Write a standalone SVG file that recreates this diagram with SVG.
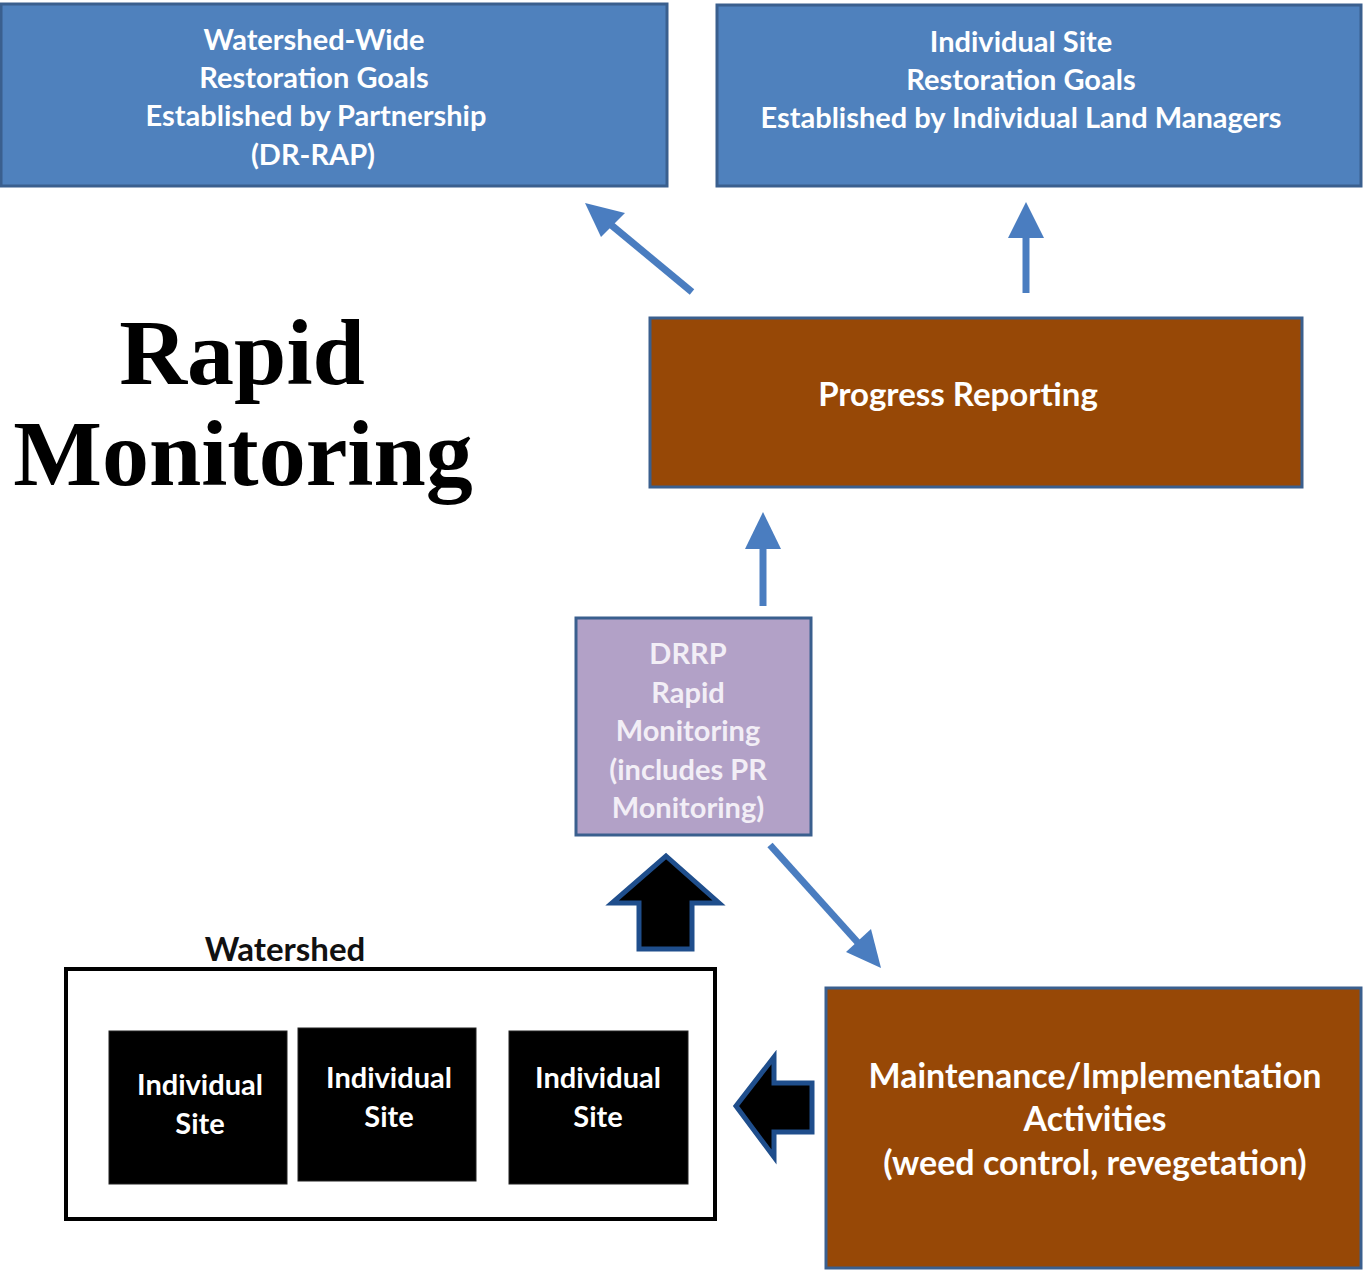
<svg xmlns="http://www.w3.org/2000/svg" width="1363" height="1273" viewBox="0 0 1363 1273">
<defs>
<style>
.blue{fill:#4f81bd;stroke:#3a5f8e;stroke-width:3}
.brown{fill:#974806;stroke:#3a5f8e;stroke-width:3}
.purple{fill:#b2a1c7;stroke:#3a5f8e;stroke-width:3}
.site{fill:#000;stroke:#222;stroke-width:1}
.t{font-family:Lato,"Open Sans","Liberation Sans",sans-serif;font-weight:bold;text-anchor:middle;fill:#fff}
.tl{fill:#f2eef6}
.big{font-family:"Liberation Serif","DejaVu Serif",serif;font-weight:bold;font-size:94px;text-anchor:middle;fill:#000}
.ln{stroke:#4a7dc0;stroke-width:7;fill:none}
.hd{fill:#4a7dc0}
.blk{fill:#000;stroke:#1f4e8c;stroke-width:5;stroke-linejoin:miter}
</style>
</defs>
<rect width="1363" height="1273" fill="#fff"/>
<g id="watershed-goals">
<rect class="blue" x="1" y="4" width="666" height="182"/>
<text class="t" font-size="29" x="314" y="50">Watershed-Wide</text>
<text class="t" font-size="29" x="314" y="88">Restoration  Goals</text>
<text class="t" font-size="29" x="316" y="126">Established  by Partnership</text>
<text class="t" font-size="29" x="313" y="165">(DR-RAP)</text>
</g>
<g id="site-goals">
<rect class="blue" x="717" y="5" width="644" height="181"/>
<text class="t" font-size="29" x="1021" y="52">Individual  Site</text>
<text class="t" font-size="29" x="1021" y="90">Restoration  Goals</text>
<text class="t" font-size="29" x="1021" y="128">Established  by Individual  Land  Managers</text>
</g>
<g id="title">
<text class="big" x="242" y="384">Rapid</text>
<text class="big" x="243" y="485">Monitoring</text>
</g>
<g id="progress-reporting">
<rect class="brown" x="650" y="318" width="652" height="169"/>
<text class="t" font-size="33" x="958" y="406">Progress Reporting</text>
</g>
<g id="drrp">
<rect class="purple" x="576" y="618" width="235" height="217"/>
<text class="t tl" font-size="29" x="688" y="664">DRRP</text>
<text class="t tl" font-size="29" x="688" y="703">Rapid</text>
<text class="t tl" font-size="29" x="688" y="741">Monitoring</text>
<text class="t tl" font-size="29" x="688" y="780">(includes PR</text>
<text class="t tl" font-size="29" x="688" y="818">Monitoring)</text>
</g>
<g id="maintenance">
<rect class="brown" x="826" y="988" width="535" height="280"/>
<text class="t" font-size="34" x="1095" y="1088">Maintenance/Implementation</text>
<text class="t" font-size="34" x="1095" y="1131">Activities</text>
<text class="t" font-size="34" x="1095" y="1175">(weed control, revegetation)</text>
</g>
<g id="watershed">
<text font-family="Lato,'Liberation Sans',sans-serif" font-weight="bold" font-size="33" x="285" y="961" text-anchor="middle" fill="#111">Watershed</text>
<rect x="66" y="969" width="649" height="250" fill="#fff" stroke="#000" stroke-width="4"/>
</g>
<g id="site-1">
<rect class="site" x="109" y="1031" width="178" height="153"/>
<text class="t" font-size="29" x="200" y="1095">Individual</text>
<text class="t" font-size="29" x="200" y="1134">Site</text>
</g>
<g id="site-2">
<rect class="site" x="298" y="1028" width="178" height="153"/>
<text class="t" font-size="29" x="389" y="1088">Individual</text>
<text class="t" font-size="29" x="389" y="1127">Site</text>
</g>
<g id="site-3">
<rect class="site" x="509" y="1031" width="179" height="153"/>
<text class="t" font-size="29" x="598" y="1088">Individual</text>
<text class="t" font-size="29" x="598" y="1127">Site</text>
</g>
<g id="connectors">
<line class="ln" x1="692" y1="292" x2="610" y2="224"/>
<polygon class="hd" points="585,203 625,213 601,237"/>
<line class="ln" x1="1026" y1="293" x2="1026" y2="232"/>
<polygon class="hd" points="1026,202 1044,238 1008,238"/>
<line class="ln" x1="763" y1="606" x2="763" y2="543"/>
<polygon class="hd" points="763,512 781,549 745,549"/>
<line class="ln" x1="770" y1="845" x2="860" y2="945"/>
<polygon class="hd" points="881,968 846,952 871,929"/>
<polygon class="blk" points="666,856 719,903 692,903 692,949 639,949 639,903 612,903"/>
<polygon class="blk" points="736,1106 774,1057 774,1083 812,1083 812,1132 774,1132 774,1157"/>
</g>
</svg>
